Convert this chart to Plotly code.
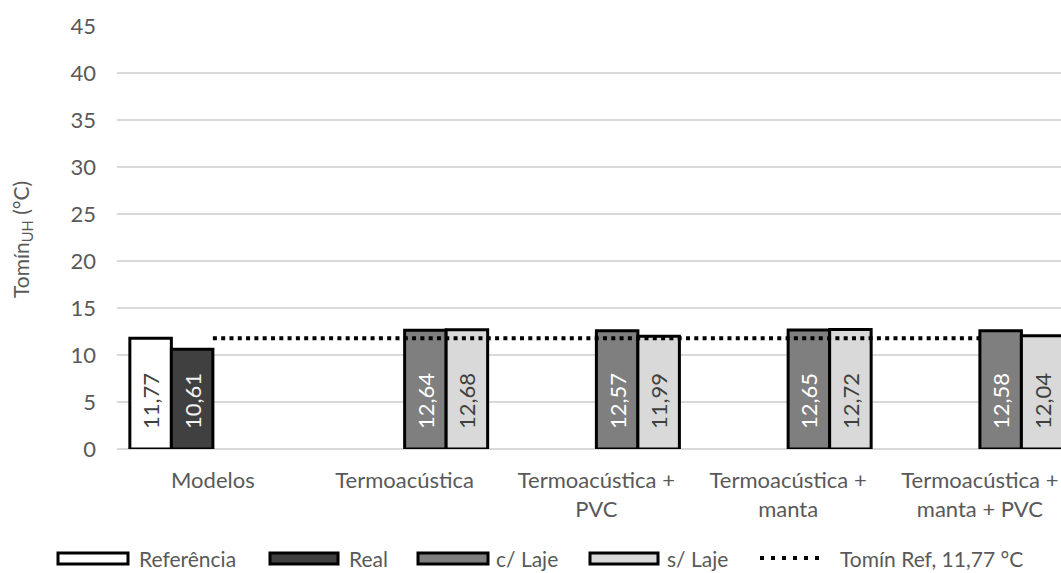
import plotly.graph_objects as go

# Categories and tick labels (wrapped the way they are displayed)
categories = ["Modelos", "Termoacústica", "Termoacústica + PVC",
              "Termoacústica + manta", "Termoacústica + manta + PVC"]
tick_labels = ["Modelos", "Termoacústica", "Termoacústica +<br>PVC",
               "Termoacústica +<br>manta", "Termoacústica +<br>manta + PVC"]

# Minimum operative temperature of the dwelling unit (°C)
referencia = [11.77, None, None, None, None]
real = [10.61, None, None, None, None]
com_laje = [None, 12.64, 12.57, 12.65, 12.58]
sem_laje = [None, 12.68, 11.99, 12.72, 12.04]
tomin_ref = 11.77

series = [
    ("Referência", referencia, "#ffffff", "#404040"),
    ("Real", real, "#404040", "#f2f2f2"),
    ("c/ Laje", com_laje, "#7f7f7f", "#ffffff"),
    ("s/ Laje", sem_laje, "#d9d9d9", "#404040"),
]

FONT = "Lato"
GREY = "#595959"
FS = 22
W, H = 1061, 573
L, R, T, B = 117, 0, 26, 124
CAT_W = 191.75  # pixel width of one category band

fig = go.Figure()
for name, vals, fill, txt in series:
    fig.add_trace(go.Bar(
        name=name, x=categories, y=vals,
        marker=dict(color=fill, line=dict(color="#000000", width=3)),
        texttemplate="\u00a0\u00a0\u00a0%{y:.2f}",
        textposition="inside", insidetextanchor="start", textangle=-90,
        textfont=dict(family=FONT, size=FS, color=txt),
        showlegend=False,
    ))

fig.add_trace(go.Scatter(
    name="Tomín Ref.", x=categories, y=[tomin_ref] * len(categories),
    mode="lines", line=dict(color="#000000", width=4, dash="4px,4.3px"),
    showlegend=False,
))


def px_to_paper(px, py):
    pw = W - L - R
    ph = H - T - B
    return (px - L) / pw, (H - B - py) / ph


# Hand-drawn legend row under the chart
shapes = []
annotations = []
legend_items = [
    (58, 128, 137, "Referência", "#ffffff"),
    (270, 338, 347, "Real", "#404040"),
    (418, 488, 494, "c/ Laje", "#7f7f7f"),
    (590, 658, 665, "s/ Laje", "#d9d9d9"),
]
ly0, ly1, ly = 553, 564, 558
for x0, x1, tx, label, fill in legend_items:
    a0, b0 = px_to_paper(x0, ly1)
    a1, b1 = px_to_paper(x1, ly0)
    shapes.append(dict(type="rect", xref="paper", yref="paper",
                       x0=a0, x1=a1, y0=b0, y1=b1,
                       fillcolor=fill, line=dict(color="#000000", width=3)))
    ax, ay = px_to_paper(tx, ly)
    annotations.append(dict(xref="paper", yref="paper", x=ax, y=ay, text=label,
                            showarrow=False, xanchor="left", yanchor="middle",
                            font=dict(family=FONT, size=21, color=GREY)))

d0, dy = px_to_paper(760, ly)
d1, _ = px_to_paper(823, ly)
shapes.append(dict(type="line", xref="paper", yref="paper", x0=d0, x1=d1, y0=dy, y1=dy,
                   line=dict(color="#000000", width=4, dash="4px,7px")))
ax, ay = px_to_paper(838, ly)
ref_label = f"Tomín Ref. {tomin_ref:.2f}".replace(".", ",") + " °C"
annotations.append(dict(xref="paper", yref="paper", x=ax, y=ay, text=ref_label,
                        showarrow=False, xanchor="left", yanchor="middle",
                        font=dict(family=FONT, size=21, color=GREY)))

# Y axis title
tx, ty = px_to_paper(22, 240)
annotations.append(dict(xref="paper", yref="paper", x=tx, y=ty,
                        text="Tomín<sub>UH</sub> (°C)", textangle=-90,
                        showarrow=False, xanchor="center", yanchor="middle",
                        font=dict(family=FONT, size=21, color=GREY)))

n_visible = (W - L - R) / CAT_W
fig.update_layout(
    width=W, height=H,
    margin=dict(l=L, r=R, t=T, b=B, pad=0),
    paper_bgcolor="#ffffff", plot_bgcolor="#ffffff",
    barmode="group", bargap=0.134, bargroupgap=0,
    separators=",.",
    font=dict(family=FONT, size=FS, color=GREY),
    shapes=shapes, annotations=annotations,
    xaxis=dict(
        range=[-0.5, -0.5 + n_visible],
        tickmode="array", tickvals=categories, ticktext=tick_labels,
        showgrid=False, showline=False, zeroline=False,
        ticks="", ticklabelstandoff=16,
        tickfont=dict(family=FONT, size=FS, color=GREY),
    ),
    yaxis=dict(
        range=[0, 45], dtick=5, tick0=0,
        showgrid=True, gridcolor="#d9d9d9", gridwidth=1.5,
        zeroline=True, zerolinecolor="#d9d9d9", zerolinewidth=1.5,
        showline=False, ticks="", ticklabelstandoff=20,
        tickfont=dict(family=FONT, size=FS, color=GREY),
    ),
)

fig.write_html("out.html")
